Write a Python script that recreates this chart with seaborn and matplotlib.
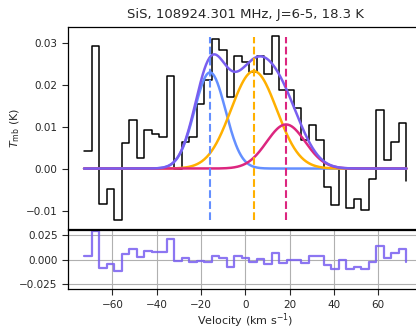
import numpy as np
import pandas as pd
import matplotlib
matplotlib.use("Agg")
import matplotlib.pyplot as plt
import seaborn as sns

sns.set_style("ticks")
plt.rcParams['font.family'] = ['DejaVu Sans']

# Channel velocities (km/s)
velocity = [-72.75, -69.37, -65.98, -62.60, -59.21, -55.83, -52.44, -49.06, -45.67, -42.29,
            -38.91, -35.52, -32.14, -28.75, -25.37, -21.98, -18.60, -15.22, -11.83, -8.45,
            -5.06, -1.68, 1.71, 5.09, 8.48, 11.86, 15.24, 18.63, 22.01, 25.40,
            28.78, 32.17, 35.55, 38.93, 42.32, 45.70, 49.09, 52.47, 55.86, 59.24,
            62.63, 66.01, 69.40, 72.78]
# Main-beam temperature (K)
tmb = [0.0041, 0.0292, -0.0085, -0.0049, -0.0122, 0.0060, 0.0115, 0.0025, 0.0093, 0.0083,
       0.0076, 0.0221, -0.0002, 0.0063, 0.0076, 0.0154, 0.0210, 0.0309, 0.0283, 0.0171,
       0.0267, 0.0255, 0.0231, 0.0268, 0.0225, 0.0316, 0.0187, 0.0187, 0.0145, 0.0068,
       0.0104, 0.0068, -0.0043, -0.0086, 0.0001, -0.0093, -0.0072, -0.0098, -0.0025, 0.0140,
       0.0021, 0.0064, 0.0108, -0.0029]

# Gaussian components: amplitude (K), centre (km/s), sigma (km/s)
comp_amp = [0.0229, 0.0232, 0.0105]
comp_center = [-15.9, 3.9, 18.4]
comp_sigma = [7.0, 10.3, 8.7]
comp_colors = ['#648FFF', '#FFB000', '#DC267F']
total_color = '#785EF0'

title = "SiS, 108924.301 MHz, J=6-5, 18.3 K"

v = np.array(velocity)
t = np.array(tmb)

def gauss(x, a, c, s):
    return a * np.exp(-0.5 * ((x - c) / s) ** 2)

vfine = np.linspace(v[0], v[-1], 400)
comps = [gauss(vfine, a, c, s) for a, c, s in zip(comp_amp, comp_center, comp_sigma)]
total = np.sum(comps, axis=0)
model_chan = np.sum([gauss(v, a, c, s) for a, c, s in zip(comp_amp, comp_center, comp_sigma)], axis=0)
resid = t - model_chan

fig = plt.figure(figsize=(4.16, 3.29), dpi=100)
ax = fig.add_axes([0.1635, 0.304, 0.852, 0.6149])
axr = fig.add_axes([0.1635, 0.1207, 0.852, 0.1802])

df = pd.DataFrame({'v': v, 't': t, 'r': resid})
sns.lineplot(data=df, x='v', y='t', drawstyle='steps-post', color='black', lw=1.1, ax=ax, zorder=2)
for y, col in zip(comps, comp_colors):
    sns.lineplot(x=vfine, y=y, color=col, lw=1.8, ax=ax, zorder=3)
sns.lineplot(x=vfine, y=total, color=total_color, lw=1.8, ax=ax, zorder=4)
for c, col in zip(comp_center, comp_colors):
    ax.axvline(c, ymin=0.045, ymax=0.948, color=col, ls='--', lw=1.5, zorder=5)

ax.set_xlim(-80, 80)
ax.set_ylim(-0.0144, 0.0338)
ax.set_yticks([-0.01, 0.0, 0.01, 0.02, 0.03])
ax.set_xticks([-60, -40, -20, 0, 20, 40, 60])
ax.tick_params(axis='x', length=0, labelbottom=False)
ax.tick_params(axis='y', labelsize=7.5, length=4, width=0.8)
ax.set_xlabel('')
ax.set_ylabel(r'$T_{\rm mb}$ (K)', fontsize=8, labelpad=3)
ax.set_title(title, fontsize=9.5)

sns.lineplot(data=df, x='v', y='r', drawstyle='steps-post', color=total_color, lw=1.6, alpha=0.85, ax=axr)
axr.set_xlim(-80, 80)
axr.set_ylim(-0.0306, 0.0306)
axr.set_xticks([-60, -40, -20, 0, 20, 40, 60])
axr.set_yticks([-0.025, 0.0, 0.025])
axr.set_yticklabels(['\u22120.025', '0.000', '0.025'])
axr.grid(True, color='#b0b0b0', lw=0.8)
axr.tick_params(labelsize=7.5, length=4, width=0.8)
axr.set_xlabel(r'Velocity (km s$^{-1}$)', fontsize=8, labelpad=1)
axr.set_ylabel('')

for a in (ax, axr):
    for sp in a.spines.values():
        sp.set_color('black')
        sp.set_linewidth(0.9)

fig.savefig('out.png', dpi=100)
